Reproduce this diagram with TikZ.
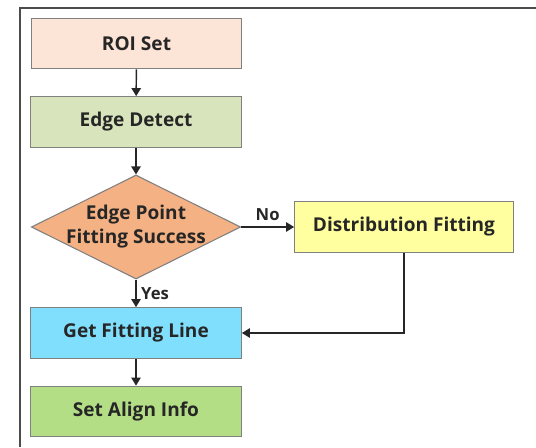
\documentclass[tikz,border=0pt]{standalone}
\usepackage{fontspec}
\setsansfont{Open Sans}
\usetikzlibrary{shapes.geometric, arrows.meta}

\definecolor{roicol}{HTML}{FCE4D6}
\definecolor{edgecol}{HTML}{D8E4BC}
\definecolor{deccol}{HTML}{F4B183}
\definecolor{distcol}{HTML}{FFFF9F}
\definecolor{linecol}{HTML}{80DFFC}
\definecolor{aligncol}{HTML}{B3DE86}

\tikzset{
  stepbox/.style={draw=black!50, line width=0.8pt, minimum width=158pt, minimum height=38pt,
    inner sep=0pt, font=\sffamily\bfseries\fontsize{14.3}{18}\selectfont, text=black!85},
  flow/.style={draw=black!85, line width=1.1pt, -{Triangle[width=7pt,length=6pt]}},
  tag/.style={font=\sffamily\bfseries\fontsize{12.5}{14}\selectfont, text=black!85}
}

\begin{document}
\begin{tikzpicture}[x=0.75pt, y=0.75pt]
    \useasboundingbox (0,0) rectangle (536,447);
    % frame
    \draw[black!70, line width=1.5pt] (20,0) -- (20,439) -- (536,439);
    % boxes
    \node[stepbox, fill=roicol] (roi) at (136.5,403.5) {ROI Set};
    \node[stepbox, fill=edgecol] (edge) at (136,325) {Edge Detect};
    \node[diamond, draw=black!50, line width=0.8pt, fill=deccol, aspect=2, inner sep=0pt,
      minimum width=157pt, minimum height=78pt] (dec) at (136,220) {};
    \node[font=\sffamily\bfseries\fontsize{14.3}{18}\selectfont, text=black!85, align=center]
      (dectext) at (dec.center) {Edge Point\\Fitting Success};
    \node[stepbox, fill=distcol, minimum width=164pt] (dist) at (404,220) {Distribution Fitting};
    \node[stepbox, fill=linecol] (getline) at (136,114) {Get Fitting Line};
    \node[stepbox, fill=aligncol] (align) at (136,35.5) {Set Align Info};
    % arrows
    \draw[flow] (roi) -- (edge);
    \draw[flow] (edge) -- (dec);
    \draw[flow] (dec.east) -- node[tag, above, yshift=1pt] (no) {No} (dist);
    \draw[flow] (dec.south) -- node[tag, right] (yes) {Yes} (getline);
    \draw[flow] (dist.south) |- (getline.east);
    \draw[flow] (getline) -- (align);
\end{tikzpicture}
\end{document}
